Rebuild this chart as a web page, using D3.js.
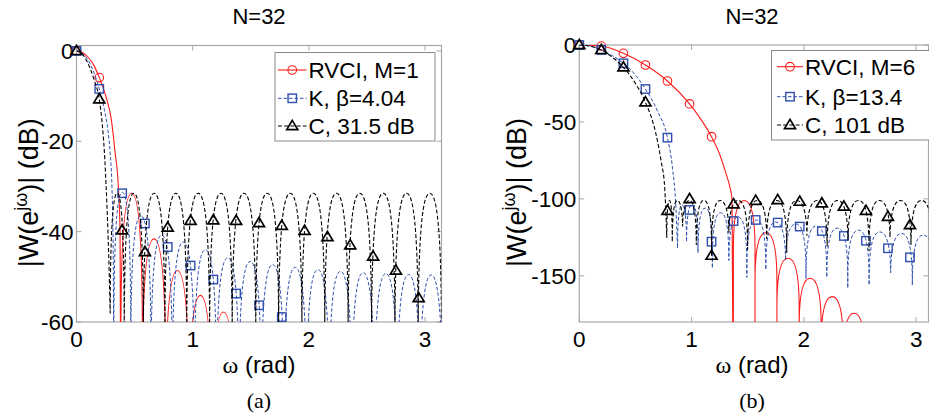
<!DOCTYPE html>
<html><head><meta charset="utf-8">
<script src="https://cdn.jsdelivr.net/npm/d3@7"></script>
<style>
body{margin:0;background:#fff}
svg text{font-family:"Liberation Sans",Arial,Helvetica,sans-serif;fill:#000}
</style>
</head><body>
<svg id="c" width="929" height="416"></svg>
<script>
// ---------------- DATA ----------------
const xTicks = [0, 1, 2, 3];
const yTicksA = [-60, -40, -20, 0];
const yTicksB = [-150, -100, -50, 0];
const titles = ["N=32", "N=32"];
const captions = ["(a)", "(b)"];
const legendA = ["RVCI, M=1", "K, \u03b2=4.04", "C, 31.5 dB"];
const legendB = ["RVCI, M=6", "K, \u03b2=13.4", "C, 101 dB"];

// Panel (a) — RVCI, M=1
const aRedMain = [[0,0],[0.05,-0.35],[0.1,-1.4],[0.15,-3.2],[0.196,-5.9],[0.25,-9.8],[0.3,-15.2],[0.332,-22.4],[0.36,-30],[0.375,-40],[0.382,-90]];
const aRedNulls = [0.382, 0.567, 0.768, 0.968, 1.165, 1.365];
const aRedNullDepths = [-90, -90, -90, -90, -90, -90];
const aRedPeaks = [-31.5, -41.6, -48.6, -54.1, -57.8];
const aRedMarks = [[0,0],[0.196,-5.9]];
// Panel (a) — Kaiser beta=4.04
const aBlueMain = [[0,0],[0.05,-0.5],[0.1,-2.1],[0.15,-4.8],[0.196,-8.4],[0.24,-13],[0.27,-17.5],[0.289,-22.4],[0.305,-30],[0.316,-45],[0.322,-90]];
const aBlueNulls = [0.322, 0.467, 0.641, 0.825, 1.014, 1.205, 1.398, 1.591, 1.785, 1.98, 2.175, 2.37, 2.565, 2.76, 2.956, 3.15];
const aBlueNullDepths = [-90, -90, -90, -90, -90, -90, -90, -90, -90, -90, -90, -90, -90, -90, -90, -90];
const aBluePeaks = [-31.3, -36.5, -40.8, -42.3, -44, -45.8, -46.6, -47.3, -47.9, -48.4, -48.8, -49.1, -49.3, -49.5, -49.6];
const aBlueMarks = [[0,0],[0.196,-8.4],[0.393,-31.5],[0.589,-38.2],[0.785,-43.4],[0.982,-47.5],[1.178,-50.6],[1.374,-53.7],[1.571,-56.3],[1.767,-58.9]];
// Panel (a) — Chebyshev 31.5 dB
const aBlackMain = [[0,0],[0.05,-0.7],[0.1,-2.8],[0.15,-6.3],[0.196,-10.7],[0.217,-15],[0.24,-22.4],[0.26,-33],[0.278,-46],[0.29,-58]];
const aBlackNulls = [0.29, 0.411, 0.576, 0.761, 0.949, 1.146, 1.340, 1.543, 1.740, 1.940, 2.137, 2.338, 2.540, 2.741, 2.941, 3.1416];
const aBlackNullDepths = [-58, -90, -90, -90, -90, -90, -90, -90, -90, -90, -90, -90, -90, -90, -90, -90];
const aBlackPeaks = [-31.5, -31.5, -31.5, -31.5, -31.5, -31.5, -31.5, -31.5, -31.5, -31.5, -31.5, -31.5, -31.5, -31.5, -31.5];
const aBlackMarks = [[0,0],[0.196,-10.7],[0.393,-39.7],[0.589,-44.5],[0.785,-39.1],[0.982,-37.6],[1.178,-37.5],[1.374,-37.6],[1.571,-38.1],[1.767,-38.7],[1.963,-39.8],[2.16,-41.2],[2.356,-43],[2.553,-45.5],[2.749,-48.6],[2.945,-54.7]];

// Panel (b) — RVCI, M=6
const bRedMain = [[0,0],[0.196,-0.7],[0.393,-5.4],[0.589,-13],[0.785,-23.4],[0.982,-38.3],[1.08,-48],[1.178,-59.6],[1.25,-71],[1.3,-82],[1.34,-92],[1.36,-100],[1.372,-250]];
const bRedNulls = [1.372, 1.565, 1.76, 1.958, 2.154, 2.35, 2.545];
const bRedNullDepths = [-250, -250, -250, -250, -250, -250, -250];
const bRedPeaks = [-101, -122, -138.6, -151.6, -163.5, -174.3];
const bRedMarks = [[0,0],[0.196,-0.7],[0.393,-5.4],[0.589,-13],[0.785,-23.4],[0.982,-38.3],[1.178,-59.6]];
// Panel (b) — Kaiser beta=13.4
const bBlueMain = [[0,0],[0.1,-0.8],[0.196,-3.2],[0.3,-7.2],[0.393,-11.9],[0.5,-19.5],[0.589,-28.6],[0.7,-43.5],[0.785,-60.2],[0.83,-80],[0.86,-105],[0.875,-132]];
const bBlueNulls = [0.875, 0.955, 1.057, 1.185, 1.332, 1.492, 1.661, 1.837, 2.019, 2.204, 2.391, 2.581, 2.773, 2.966, 3.16];
const bBlueNullDepths = [-132, -128, -135, -145, -140, -151, -146, -140, -152, -151, -158, -156, -148, -156, -150];
const bBluePeaks = [-104, -103.5, -106, -109, -111.7, -113.7, -115, -116.3, -117.6, -119, -120.3, -121.5, -122.5, -123.5];
const bBlueMarks = [[0,0],[0.196,-3.2],[0.393,-11.9],[0.589,-28.6],[0.785,-60.2],[0.982,-107.2],[1.178,-127.8],[1.374,-114.4],[1.571,-113.7],[1.767,-115.4],[1.963,-118],[2.16,-120.9],[2.356,-124.1],[2.553,-127.2],[2.749,-132.1],[2.945,-138]];
// Panel (b) — Chebyshev 101 dB
const bBlackMain = [[0,0],[0.1,-0.8],[0.196,-3.2],[0.3,-8.3],[0.393,-14.5],[0.5,-25],[0.589,-37.2],[0.68,-57],[0.73,-76],[0.76,-92],[0.779,-125]];
const bBlackNulls = [0.779, 0.828, 0.920, 1.042, 1.178, 1.332, 1.499, 1.669, 1.847, 2.027, 2.207, 2.393, 2.580, 2.767, 2.954, 3.1416];
const bBlackNullDepths = [-125, -128, -118, -130, -137, -122, -133, -126, -135, -124, -131, -127, -134, -125, -130, -128];
const bBlackPeaks = [-101, -101, -101, -101, -101, -101, -101, -101, -101, -101, -101, -101, -101, -101, -101];
const bBlackMarks = [[0,0],[0.196,-3.2],[0.393,-14.5],[0.589,-37.2],[0.785,-107.7],[0.982,-100.1],[1.178,-136.9],[1.374,-103.5],[1.571,-101.2],[1.767,-100.7],[1.963,-101.8],[2.16,-102.9],[2.356,-105],[2.553,-107.7],[2.749,-111.6],[2.945,-117]];

// ---------------- DRAWING ----------------
const svg = d3.select("#c");
const AX = "#a8a8a8";
const styles = {
  red:   {color: "#ff1a1a", width: 1.1, dash: null,  marker: "circle"},
  blue:  {color: "#2f4fae", width: 1.0, dash: "3.5,2", marker: "square"},
  black: {color: "#000000", width: 1.1, dash: "4,2.2", marker: "triangle"}
};

function lobe(x, y, xa, da, xb, db, p) {
  const K = 30, c = 8, w = xb - xa, xm = xa + w / 2;
  const sa = Math.max(da, p - K), sb = Math.max(db, p - K);
  return `L${x(xa)},${y(da)}L${x(xa)},${y(sa)}` +
    `C${x(xa + 0.01 * w)},${y(p - c)} ${x(xa + 0.2 * w)},${y(p)} ${x(xm)},${y(p)}` +
    `C${x(xb - 0.2 * w)},${y(p)} ${x(xb - 0.01 * w)},${y(p - c)} ${x(xb)},${y(sb)}` +
    `L${x(xb)},${y(db)}`;
}

function drawMarker(g, kind, cx, cy, color) {
  if (kind === "circle") {
    g.append("circle").attr("cx", cx).attr("cy", cy).attr("r", 4.3)
      .attr("fill", "none").attr("stroke", color).attr("stroke-width", 1.1);
  } else if (kind === "square") {
    g.append("rect").attr("x", cx - 4.2).attr("y", cy - 4.2).attr("width", 8.4).attr("height", 8.4)
      .attr("fill", "none").attr("stroke", color).attr("stroke-width", 1.4);
  } else {
    g.append("path").attr("d", `M${cx},${cy - 5.6}L${cx + 5.5},${cy + 3.6}L${cx - 5.5},${cy + 3.6}Z`)
      .attr("fill", "none").attr("stroke", color).attr("stroke-width", 1.7).attr("stroke-linejoin", "miter");
  }
}

function panel(cfg, id) {
  const g = svg.append("g");
  const x = d3.scaleLinear().domain(cfg.xDomain).range(cfg.xRange);
  const y = d3.scaleLinear().domain(cfg.yDomain).range(cfg.yRange);
  const [L, R] = cfg.xRange, [B, T] = cfg.yRange;

  g.append("clipPath").attr("id", "clip" + id).append("rect")
    .attr("x", L).attr("y", T).attr("width", R - L).attr("height", B - T);

  // axes box + ticks
  g.append("rect").attr("x", L).attr("y", T).attr("width", R - L).attr("height", B - T)
    .attr("fill", "none").attr("stroke", AX).attr("stroke-width", 1.2);
  xTicks.forEach(t => {
    if (t > cfg.xDomain[1]) return;
    const px = x(t);
    g.append("line").attr("x1", px).attr("x2", px).attr("y1", B).attr("y2", B - 5).attr("stroke", AX);
    g.append("line").attr("x1", px).attr("x2", px).attr("y1", T).attr("y2", T + 5).attr("stroke", AX);
    g.append("text").attr("x", px).attr("y", B + 25).attr("text-anchor", "middle")
      .attr("font-size", 22.5).text(t);
  });
  cfg.yTicks.forEach(t => {
    const py = y(t);
    g.append("line").attr("x1", L).attr("x2", L + 5).attr("y1", py).attr("y2", py).attr("stroke", AX);
    g.append("line").attr("x1", R).attr("x2", R - 5).attr("y1", py).attr("y2", py).attr("stroke", AX);
    g.append("text").attr("x", L - 3).attr("y", py + 8).attr("text-anchor", "end")
      .attr("font-size", 22.5).text(t);
  });

  // series
  const lineGen = d3.line().x(d => x(d[0])).y(d => y(d[1])).curve(d3.curveMonotoneX);
  cfg.series.forEach(s => {
    const st = styles[s.style];
    let d = lineGen(s.main);
    for (let i = 0; i < s.peaks.length; i++) {
      d += lobe(x, y, s.nulls[i], s.depths[i], s.nulls[i + 1], s.depths[i + 1], s.peaks[i]);
    }
    g.append("path").attr("d", d).attr("fill", "none")
      .attr("stroke", st.color).attr("stroke-width", st.width)
      .attr("stroke-dasharray", st.dash).attr("clip-path", `url(#clip${id})`);
    const mg = g.append("g");
    s.marks.forEach(m => {
      if (m[1] < cfg.yDomain[0]) return;
      drawMarker(mg, st.marker, x(m[0]), y(m[1]), st.color);
    });
  });

  // legend
  const lg = cfg.legend;
  g.append("rect").attr("x", lg.x).attr("y", lg.y).attr("width", lg.w).attr("height", lg.h)
    .attr("fill", "#fff").attr("stroke", "#8a8a8a").attr("stroke-width", 1);
  cfg.legendLabels.forEach((lab, i) => {
    const s = styles[cfg.series[i].style];
    const ry = lg.rows[i];
    g.append("line").attr("x1", lg.lx0).attr("x2", lg.lx1).attr("y1", ry).attr("y2", ry)
      .attr("stroke", s.color).attr("stroke-width", s.width).attr("stroke-dasharray", s.dash);
    drawMarker(g, s.marker, (lg.lx0 + lg.lx1) / 2, ry, s.color);
    g.append("text").attr("x", lg.tx).attr("y", ry + 8).attr("font-size", 22.5).text(lab);
  });

  // title, labels
  const cx = cfg.center;
  g.append("text").attr("x", cx).attr("y", 24).attr("text-anchor", "middle").attr("font-size", 22).text(cfg.title);
  const xl = g.append("text").attr("x", cx).attr("y", 373).attr("text-anchor", "middle").attr("font-size", 24);
  xl.append("tspan").style("font-family", "'Liberation Serif','DejaVu Serif',serif").text("\u03c9");
  xl.append("tspan").text(" (rad)");
  g.append("text").attr("x", cx).attr("y", 408).attr("text-anchor", "middle").attr("font-size", 22)
    .style("font-family", "'Liberation Serif','Times New Roman',serif")
    .text(cfg.caption);
  const yl = g.append("text").attr("transform", `translate(${cfg.ylabelX},${(T + B) / 2 + 9}) rotate(-90)`)
    .attr("text-anchor", "middle").attr("font-size", 27);
  yl.append("tspan").text("|W(e");
  yl.append("tspan").attr("dy", -11).attr("font-size", 18).text("j\u03c9");
  yl.append("tspan").attr("dy", 11).text(")| (dB)");
}

panel({
  xDomain: [0, Math.PI], xRange: [76.5, 441.5],
  yDomain: [-60, 1.2], yRange: [322, 45.5],
  yTicks: yTicksA, title: titles[0], caption: captions[0], center: 259, ylabelX: 38,
  legendLabels: legendA,
  legend: {x: 275, y: 52.5, w: 160, h: 88.5, rows: [70, 98.3, 126], lx0: 278, lx1: 306.5, tx: 308.5},
  series: [
    {style: "red", main: aRedMain, nulls: aRedNulls, depths: aRedNullDepths, peaks: aRedPeaks, marks: aRedMarks},
    {style: "blue", main: aBlueMain, nulls: aBlueNulls, depths: aBlueNullDepths, peaks: aBluePeaks, marks: aBlueMarks},
    {style: "black", main: aBlackMain, nulls: aBlackNulls, depths: aBlackNullDepths, peaks: aBlackPeaks, marks: aBlackMarks}
  ]
}, "a");

panel({
  xDomain: [0, 3.11], xRange: [579.3, 928.5],
  yDomain: [-180, 0], yRange: [322, 45],
  yTicks: yTicksB, title: titles[1], caption: captions[1], center: 752, ylabelX: 526,
  legendLabels: legendB,
  legend: {x: 771.5, y: 50.5, w: 160, h: 89.5, rows: [66.7, 96.7, 125], lx0: 777, lx1: 803, tx: 805},
  series: [
    {style: "red", main: bRedMain, nulls: bRedNulls, depths: bRedNullDepths, peaks: bRedPeaks, marks: bRedMarks},
    {style: "blue", main: bBlueMain, nulls: bBlueNulls, depths: bBlueNullDepths, peaks: bBluePeaks, marks: bBlueMarks},
    {style: "black", main: bBlackMain, nulls: bBlackNulls, depths: bBlackNullDepths, peaks: bBlackPeaks, marks: bBlackMarks}
  ]
}, "b");
</script>
</body></html>
